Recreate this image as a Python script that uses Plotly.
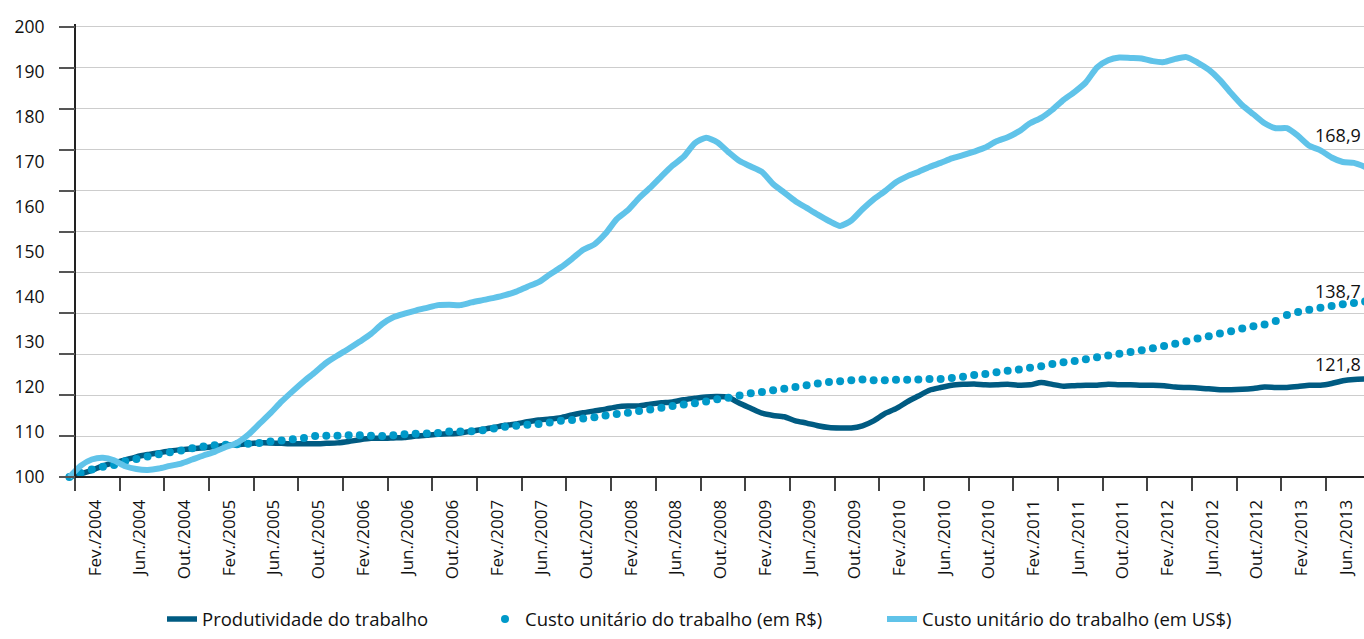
import plotly.graph_objects as go

# ---------------- data (monthly, Jan/2004 = 100) ----------------
produtividade = [
    100.0, 100.7, 101.5, 102.5, 103.2, 103.8, 104.5, 105.0, 105.4, 105.8, 106.1, 106.3,
    106.5, 106.8, 107.1, 107.2, 107.4, 107.6, 107.6, 107.5, 107.4, 107.4, 107.4, 107.5,
    107.6, 107.9, 108.3, 108.6, 108.6, 108.7, 108.8, 109.1, 109.3, 109.5, 109.6, 109.8,
    110.2, 110.6, 111.0, 111.5, 111.8, 112.3, 112.7, 112.9, 113.2, 113.8, 114.3, 114.7,
    115.1, 115.6, 115.8, 115.8, 116.2, 116.5, 116.7, 117.2, 117.5, 117.8, 117.9, 117.7,
    116.4, 115.3, 114.2, 113.7, 113.4, 112.5, 112.0, 111.4, 111.0, 110.9, 110.9, 111.4,
    112.5, 114.1, 115.2, 116.7, 118.0, 119.3, 119.9, 120.4, 120.6, 120.7, 120.5, 120.5,
    120.6, 120.4, 120.5, 121.0, 120.6, 120.2, 120.3, 120.4, 120.4, 120.6, 120.5, 120.5,
    120.4, 120.4, 120.3, 120.0, 119.9, 119.8, 119.6, 119.4, 119.4, 119.5, 119.7, 120.0,
    119.9, 119.9, 120.1, 120.4, 120.4, 120.8, 121.4, 121.7, 121.8,
]
custo_brl = [
    100.0, 100.9, 101.7, 102.3, 102.7, 103.5, 104.0, 104.6, 105.1, 105.5, 105.9, 106.4,
    106.8, 107.1, 107.2, 107.3, 107.4, 107.6, 107.9, 108.1, 108.4, 108.7, 109.1, 109.2,
    109.2, 109.3, 109.3, 109.2, 109.1, 109.3, 109.5, 109.6, 109.7, 109.8, 110.1, 110.1,
    110.2, 110.4, 110.8, 111.2, 111.4, 111.6, 111.8, 112.1, 112.5, 112.7, 113.0, 113.3,
    113.7, 114.0, 114.3, 114.7, 115.0, 115.4, 115.8, 116.1, 116.4, 116.8, 117.3, 117.6,
    118.1, 118.6, 118.9, 119.3, 119.6, 120.0, 120.4, 120.8, 121.1, 121.3, 121.5, 121.7,
    121.5, 121.5, 121.6, 121.6, 121.7, 121.8, 121.8, 122.0, 122.3, 122.7, 122.9, 123.3,
    123.6, 123.9, 124.3, 124.6, 125.1, 125.5, 125.8, 126.2, 126.6, 127.0, 127.4, 127.8,
    128.2, 128.6, 129.1, 129.6, 130.2, 130.8, 131.3, 131.9, 132.4, 133.0, 133.5, 133.9,
    134.7, 136.0, 136.7, 137.2, 137.6, 138.0, 138.4, 138.7, 139.0,
]
custo_usd = [
    100.0, 102.5, 103.9, 104.3, 103.7, 102.4, 101.8, 101.6, 101.9, 102.5, 103.0, 103.9,
    104.8, 105.6, 106.7, 107.6, 109.4, 111.8, 114.2, 116.8, 119.1, 121.3, 123.3, 125.4,
    127.0, 128.5, 130.1, 131.8, 134.0, 135.5, 136.3, 137.0, 137.6, 138.2, 138.3, 138.2,
    138.8, 139.3, 139.8, 140.4, 141.2, 142.3, 143.3, 145.0, 146.6, 148.5, 150.5, 151.7,
    154.1, 157.3, 159.3, 162.0, 164.3, 166.8, 169.2, 171.2, 174.2, 175.4, 174.4, 172.2,
    170.2, 169.0, 167.8, 165.1, 163.2, 161.3, 159.8, 158.3, 156.9, 155.8, 157.0, 159.5,
    161.7, 163.5, 165.5, 166.8, 167.8, 168.9, 169.8, 170.8, 171.5, 172.3, 173.2, 174.6,
    175.5, 176.8, 178.6, 179.8, 181.6, 183.8, 185.6, 187.7, 191.0, 192.6, 193.2, 193.1,
    193.0, 192.4, 192.2, 192.9, 193.3, 192.1, 190.5, 188.2, 185.3, 182.6, 180.6, 178.6,
    177.5, 177.5, 175.8, 173.6, 172.6, 171.0, 170.0, 169.8, 168.9,
]
tick_labels = [
    "Fev./2004", "Jun./2004", "Out./2004", "Fev./2005", "Jun./2005", "Out./2005",
    "Fev./2006", "Jun./2006", "Out./2006", "Fev./2007", "Jun./2007", "Out./2007",
    "Fev./2008", "Jun./2008", "Out./2008", "Fev./2009", "Jun./2009", "Out./2009",
    "Fev./2010", "Jun./2010", "Out./2010", "Fev./2011", "Jun./2011", "Out./2011",
    "Fev./2012", "Jun./2012", "Out./2012", "Fev./2013", "Jun./2013",
]
end_labels = ["121,8", "138,7", "168,9"]
y_labels = [100, 110, 120, 130, 140, 150, 160, 170, 180, 190, 200]

names = ["Produtividade do trabalho",
         "Custo unitário do trabalho (em R$)",
         "Custo unitário do trabalho (em US$)"]

# ---------------- styling ----------------
FONT = "Open Sans"
C_PROD = "#005B82"
C_BRL = "#0099C9"
C_USD = "#60C3E9"
TXT = "#111111"

W, H = 1364, 639
ML, MR, MT, MB = 62, 0, 24, 149
PW, PH = W - ML - MR, H - MT - MB

x = list(range(len(produtividade)))
px_per_month = 11.17
x0 = -(69.4 - ML) / px_per_month
x1 = x0 + PW / px_per_month
px_per_unit = 4.58
y0 = 100 - 5 / px_per_unit
y1 = y0 + PH / px_per_unit

tick_pos = [4 * k + 2.3 for k in range(len(tick_labels))]
bound_pos = [4 * k + 0.5 for k in range(len(tick_labels))]
grid_vals = [100 + k * 100 / 11 for k in range(12)]

fig = go.Figure()
fig.add_trace(go.Scatter(x=x, y=produtividade, mode="lines", name=names[0],
                         line=dict(color=C_PROD, width=5.5, shape="spline", smoothing=0.6),
                         legend="legend", yaxis="y"))
fig.add_trace(go.Scatter(x=x, y=custo_brl, mode="markers", name=names[1],
                         marker=dict(color=C_BRL, size=8, line=dict(width=0)),
                         legend="legend2", yaxis="y"))
fig.add_trace(go.Scatter(x=x, y=custo_usd, mode="lines", name=names[2],
                         line=dict(color=C_USD, width=6, shape="spline", smoothing=0.6),
                         legend="legend3", yaxis="y2"))

ends = [produtividade[-1], custo_brl[-1], custo_usd[-1]]
shifts = [15, 11, 32]
for txt, yv, sh in zip(end_labels, ends, shifts):
    fig.add_annotation(xref="paper", x=1, y=yv, yref="y", text=txt, showarrow=False,
                       xanchor="right", yanchor="middle", xshift=-1, yshift=sh,
                       font=dict(family=FONT, size=18, color=TXT))

pos_y = (75 - ML) / PW
pos_x = 5 / PH

def leg(xpx):
    return dict(orientation="h", x=(xpx - ML) / PW, xanchor="left",
                y=-(630 - (MT + PH)) / PH, yanchor="middle",
                font=dict(family=FONT, size=18.5, color=TXT),
                bgcolor="rgba(0,0,0,0)", borderwidth=0)

fig.update_layout(
    width=W, height=H,
    margin=dict(l=ML, r=MR, t=MT, b=MB, pad=0),
    paper_bgcolor="white", plot_bgcolor="white",
    font=dict(family=FONT, color=TXT),
    showlegend=True,
    legend=leg(162), legend2=leg(485), legend3=leg(882),
    xaxis=dict(range=[x0, x1], anchor="free", position=pos_x,
               showline=True, linecolor="#222222", linewidth=2,
               showgrid=False, zeroline=False,
               tickmode="array", tickvals=tick_pos, ticktext=tick_labels,
               ticks="", ticklen=0, tickangle=-90, ticklabelstandoff=15,
               tickfont=dict(family=FONT, size=17, color=TXT),
               minor=dict(tickmode="array", tickvals=bound_pos, ticks="outside",
                          ticklen=13, tickwidth=1.5, tickcolor="#444444", showgrid=False)),
    yaxis=dict(range=[y0, y1], anchor="free", position=pos_y,
               showline=True, linecolor="#222222", linewidth=2,
               showgrid=False, zeroline=False,
               tickmode="array", tickvals=y_labels, ticktext=[str(v) for v in y_labels],
               ticks="", ticklen=0, ticklabelstandoff=26,
               tickfont=dict(family=FONT, size=17.5, color=TXT)),
    yaxis2=dict(range=[y0, y1], overlaying="y", anchor="free", position=pos_y,
                showline=False, zeroline=False, showticklabels=False,
                tickmode="array", tickvals=grid_vals,
                ticks="outside", ticklen=16, tickwidth=1.5, tickcolor="#555555",
                showgrid=True, gridcolor="#cdcdcd", gridwidth=1.2),
)

fig.write_html("out.html")
